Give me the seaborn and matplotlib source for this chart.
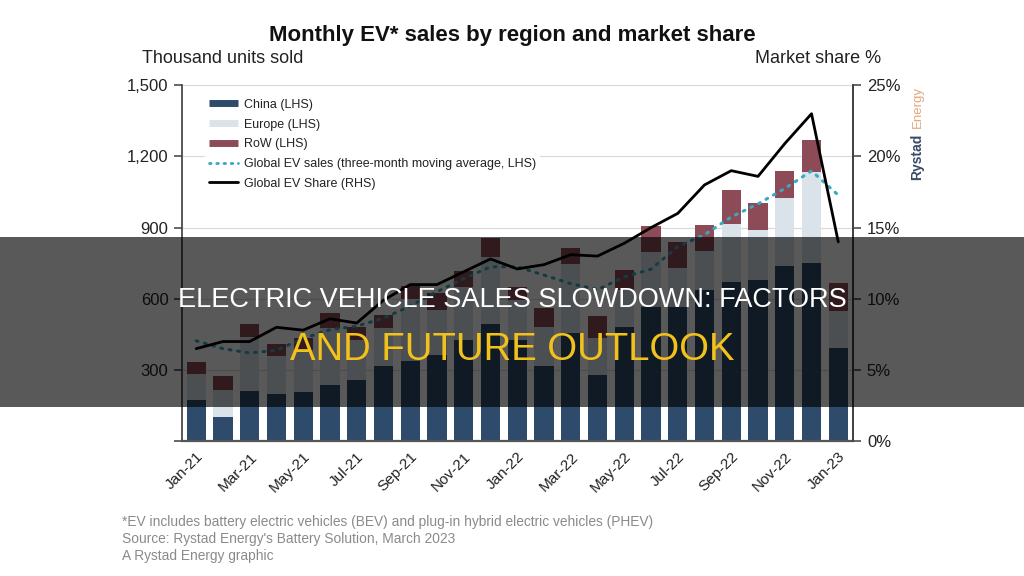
import numpy as np
import pandas as pd
import matplotlib.pyplot as plt
import seaborn as sns
from matplotlib.lines import Line2D
from matplotlib.patches import Rectangle
from matplotlib.ticker import FuncFormatter

# monthly EV sales, thousand units
months = ["Jan-21", "Feb-21", "Mar-21", "Apr-21", "May-21", "Jun-21", "Jul-21", "Aug-21",
          "Sep-21", "Oct-21", "Nov-21", "Dec-21", "Jan-22", "Feb-22", "Mar-22", "Apr-22",
          "May-22", "Jun-22", "Jul-22", "Aug-22", "Sep-22", "Oct-22", "Nov-22", "Dec-22", "Jan-23"]
china = [173, 100, 212, 197, 206, 236, 257, 317, 336, 362, 426, 496, 426,
         316, 456, 277, 480, 566, 566, 636, 671, 678, 739, 752, 391]
europe = [111, 115, 228, 161, 179, 240, 169, 160, 264, 190, 224, 281, 168,
          166, 290, 158, 156, 232, 162, 166, 243, 211, 284, 383, 158]
rest_of_world = [50, 60, 53, 51, 49, 63, 56, 54, 55, 72, 68, 81, 55,
                 81, 70, 92, 87, 108, 112, 108, 144, 115, 116, 133, 118]
moving_avg = [423, 390, 372, 383, 433, 470, 485, 518, 570, 630, 685, 735, 735,
              700, 664, 639, 692, 725, 820, 870, 945, 1000, 1065, 1139, 1037]
ev_share = [6.5, 7.0, 7.0, 8.0, 7.8, 8.6, 8.3, 9.9, 11.0, 11.0, 11.9, 12.8, 12.1,
            12.4, 13.1, 13.0, 13.9, 15.0, 16.0, 18.0, 19.0, 18.6, 20.9, 23.0, 14.0]

c_china = "#2f4b6c"
c_europe = "#dbe3ea"
c_row = "#8d4b58"
c_ma = "#38a9c0"

sns.set_theme(style="white")
plt.rcParams['font.family'] = ['Liberation Sans', 'DejaVu Sans']

df = pd.DataFrame({'month': months, 'china': china, 'europe': europe, 'row': rest_of_world})
df['china_europe'] = df['china'] + df['europe']
df['total'] = df['china_europe'] + df['row']
pos = np.arange(len(months))

fig = plt.figure(figsize=(10.24, 5.76), dpi=100)
ax = fig.add_axes([0.178, 0.234, 0.655, 0.618])

# stacked bars: draw the totals first and overlay the lower layers
for col, color in [('total', c_row), ('china_europe', c_europe), ('china', c_china)]:
    sns.barplot(data=df, x='month', y=col, color=color, saturation=1, width=0.72,
                errorbar=None, edgecolor='none', ax=ax)

sns.lineplot(x=pos, y=moving_avg, ax=ax, color=c_ma, linewidth=2.2,
             linestyle=(0, (0.6, 2.2)), dash_capstyle='round')

ax.set_xlim(-0.52, 24.55)
ax.set_ylim(0, 1500)
ax.set_yticks(np.arange(0, 1501, 300))
ax.yaxis.set_major_formatter(FuncFormatter(lambda v, p: '' if v == 0 else f'{int(v):,}'))
ax.set_xlabel('')
ax.set_ylabel('')
ax.set_axisbelow(True)
ax.yaxis.grid(True, color='#d9d9d9', linewidth=0.8)
ax.set_xticks(pos[::2])
ax.set_xticklabels(months[::2], rotation=45, ha='right', va='top', rotation_mode='anchor',
                   fontsize=11, color='#222')
ax.set_xticks(np.arange(-0.5, 25, 1), minor=True)
ax.tick_params(axis='x', which='major', length=0, pad=6)
ax.tick_params(axis='x', which='minor', length=5, color='#555', width=1)
ax.tick_params(axis='y', length=6, color='#555', labelsize=12, labelcolor='#222', pad=4)
ax.spines['top'].set_visible(False)
ax.spines['left'].set_color('#444')
ax.spines['bottom'].set_color('#555')
ax.spines['bottom'].set_linewidth(1.6)

ax2 = ax.twinx()
sns.lineplot(x=pos, y=ev_share, ax=ax2, color='black', linewidth=2)
ax2.set_ylim(0, 25)
ax2.set_yticks(np.arange(0, 26, 5))
ax2.yaxis.set_major_formatter(FuncFormatter(lambda v, p: f'{int(v)}%'))
ax2.tick_params(axis='y', length=6, color='#555', labelsize=12, labelcolor='#222', pad=4)
ax2.set_ylabel('')
ax2.spines['top'].set_visible(False)
ax2.spines['left'].set_visible(False)
ax2.spines['bottom'].set_visible(False)
ax2.spines['right'].set_color('#444')

handles = [
    Line2D([], [], color=c_china, linewidth=5, solid_capstyle='butt'),
    Line2D([], [], color=c_europe, linewidth=5, solid_capstyle='butt'),
    Line2D([], [], color=c_row, linewidth=5, solid_capstyle='butt'),
    Line2D([], [], color=c_ma, linewidth=2, linestyle=(0, (0.6, 2.0)), dash_capstyle='round'),
    Line2D([], [], color='black', linewidth=2),
]
labels = ['China (LHS)', 'Europe (LHS)', 'RoW (LHS)',
          'Global EV sales (three-month moving average, LHS)', 'Global EV Share (RHS)']
leg = ax2.legend(handles, labels, loc='upper left', bbox_to_anchor=(0.025, 0.99),
                 frameon=True, facecolor='white', edgecolor='none', framealpha=1,
                 handlelength=2.3, handletextpad=0.5, labelspacing=0.62, borderpad=0.3,
                 prop={'size': 9})
for t in leg.get_texts():
    t.set_color('#222')

fig.text(0.5, 0.938, 'Monthly EV* sales by region and market share', ha='center', va='center',
         fontsize=16, fontweight='bold', color='#111')
fig.text(0.139, 0.899, 'Thousand units sold', ha='left', va='center', fontsize=13, color='#222')
fig.text(0.86, 0.899, 'Market share %', ha='right', va='center', fontsize=13, color='#222')

fig.text(0.896, 0.688, 'Rystad', rotation=90, ha='center', va='bottom', fontsize=10,
         fontweight='bold', color='#3a4a66')
fig.text(0.896, 0.777, 'Energy', rotation=90, ha='center', va='bottom', fontsize=9.5,
         color='#e3a779')

foot = ['*EV includes battery electric vehicles (BEV) and plug-in hybrid electric vehicles (PHEV)',
        "Source: Rystad Energy's Battery Solution, March 2023",
        'A Rystad Energy graphic']
for i, line in enumerate(foot):
    fig.text(0.119, 0.094 - i * 0.03, line, ha='left', va='center', fontsize=9.9, color='#8a8a8a')

# dark headline banner across the middle of the picture
fig.patches.append(Rectangle((0, 0.2934), 1, 0.2951, transform=fig.transFigure,
                             facecolor='black', alpha=0.65, edgecolor='none', zorder=10))
fig.text(0.5, 0.479, 'ELECTRIC VEHICLE SALES SLOWDOWN: FACTORS', ha='center', va='center',
         fontsize=19.5, color='white', zorder=11)
fig.text(0.5, 0.392, 'AND FUTURE OUTLOOK', ha='center', va='center',
         fontsize=27.5, color='#f2c21b', zorder=11)

fig.savefig('out.png', dpi=100)
